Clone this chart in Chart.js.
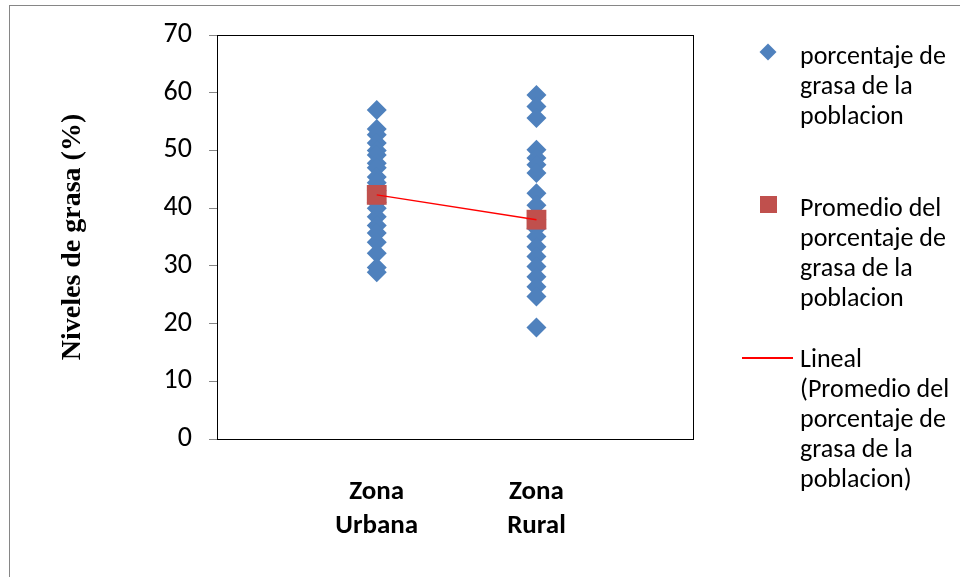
<!DOCTYPE html>
<html>
<head>
<meta charset="utf-8">
<script src="https://cdn.jsdelivr.net/npm/chart.js@4"></script>
<style>
  html, body { margin: 0; padding: 0; background: #fff; overflow: hidden; }
  #wrap { position: relative; width: 960px; height: 577px; }
  #frame { position: absolute; left: 9px; top: 5px; width: 1000px; height: 620px; border: 1px solid #868686; box-sizing: border-box; }
  #chartBox { position: absolute; left: 0; top: 0; width: 960px; height: 577px; }
  .leg { position: absolute; left: 800px; font-family: Carlito, Lato, "Open Sans", sans-serif; font-size: 26px; line-height: 30px; color: #000; white-space: nowrap; }
  .mark { position: absolute; }
</style>
</head>
<body>
<div id="wrap">
  <div id="frame"></div>
  <div id="chartBox"><canvas id="grasaChart"></canvas></div>

  <div class="mark" style="left:762px;top:46px;width:12px;height:12px;background:#4F81BD;transform:rotate(45deg);"></div>
  <div class="leg" style="top:40px;">porcentaje de<br>grasa de la<br>poblacion</div>

  <div class="mark" style="left:760px;top:196px;width:17px;height:17px;background:#C0504D;"></div>
  <div class="leg" style="top:192px;">Promedio del<br>porcentaje de<br>grasa de la<br>poblacion</div>

  <div class="mark" style="left:742px;top:357px;width:51px;height:2px;background:#FF0000;"></div>
  <div class="leg" style="top:343px;">Lineal<br>(Promedio del<br>porcentaje de<br>grasa de la<br>poblacion)</div>
</div>

<script>
// zonas (posicion en el eje x) y etiquetas
const zonas = ['Zona Urbana', 'Zona Rural'];
const zonaX = [1, 2];

// porcentaje de grasa
const grasaUrbana = [57, 53.7, 52.7, 51.3, 50, 49.2, 47.8, 47, 45.4, 44.4, 43, 41, 40, 38.5, 37, 35.7, 34.1, 32.2, 29.7, 28.9];
const grasaRural = [59.6, 57.6, 55.6, 50.1, 48.7, 47.5, 46.1, 42.6, 40.5, 38, 36.5, 35.1, 33.3, 31.6, 29.9, 28.1, 26.4, 24.7, 19.3];

// promedio por zona
const promedios = [42.3, 38];

const yTicks = { min: 0, max: 70, step: 10 };

const puntos = [
  ...grasaUrbana.map(v => ({ x: zonaX[0], y: v })),
  ...grasaRural.map(v => ({ x: zonaX[1], y: v }))
];
const puntosProm = promedios.map((v, i) => ({ x: zonaX[i], y: v }));

const fuente = 'Carlito, Lato, "Open Sans", sans-serif';

// marco negro del area de trazado
const plotFrame = {
  id: 'plotFrame',
  beforeDatasetsDraw(chart) {
    const { ctx, chartArea: a } = chart;
    ctx.save();
    ctx.strokeStyle = '#000';
    ctx.lineWidth = 1;
    ctx.strokeRect(a.left + 0.5, a.top + 0.5, a.right - a.left, a.bottom - a.top);
    ctx.restore();
  }
};

new Chart(document.getElementById('grasaChart'), {
  type: 'scatter',
  data: {
    datasets: [
      {
        label: 'Lineal (Promedio del porcentaje de grasa de la poblacion)',
        data: puntosProm,
        showLine: true,
        borderColor: '#FF0000',
        borderWidth: 1.5,
        pointRadius: 0,
        order: 0
      },
      {
        label: 'Promedio del porcentaje de grasa de la poblacion',
        data: puntosProm,
        pointStyle: 'rect',
        pointRadius: 14,
        backgroundColor: '#C0504D',
        borderColor: '#C0504D',
        borderWidth: 0,
        order: 1
      },
      {
        label: 'porcentaje de grasa de la poblacion',
        data: puntos,
        pointStyle: 'rectRot',
        pointRadius: 10,
        backgroundColor: '#4F81BD',
        borderColor: '#4F81BD',
        borderWidth: 0,
        order: 2
      }
    ]
  },
  options: {
    responsive: true,
    maintainAspectRatio: false,
    animation: false,
    layout: { padding: { left: 56, right: 267, top: 35, bottom: 0 } },
    plugins: {
      legend: { display: false },
      tooltip: { enabled: false }
    },
    scales: {
      x: {
        type: 'linear',
        min: 0,
        max: 2.98,
        afterFit: s => { s.height = 138; },
        grid: { display: false },
        border: { display: true, color: '#000' },
        ticks: {
          stepSize: 1,
          padding: 28,
          color: '#000',
          font: { family: fuente, size: 27, weight: 'bold', lineHeight: 1.26 },
          callback: v => {
            const i = zonaX.indexOf(v);
            return i < 0 ? '' : zonas[i].split(' ');
          }
        }
      },
      y: {
        min: yTicks.min,
        max: yTicks.max,
        afterFit: s => { s.width = 217 - 56; },
        grid: { drawOnChartArea: false, drawTicks: true, tickLength: 8, color: '#868686' },
        border: { display: true, color: '#000' },
        ticks: {
          stepSize: yTicks.step,
          padding: 17,
          color: '#000',
          font: { family: fuente, size: 28 }
        },
        title: {
          display: true,
          text: 'Niveles de grasa (%)',
          color: '#000',
          padding: 0,
          font: { family: '"Liberation Serif", "Times New Roman", serif', size: 28, weight: 'bold' }
        }
      }
    }
  },
  plugins: [plotFrame]
});
</script>
</body>
</html>
